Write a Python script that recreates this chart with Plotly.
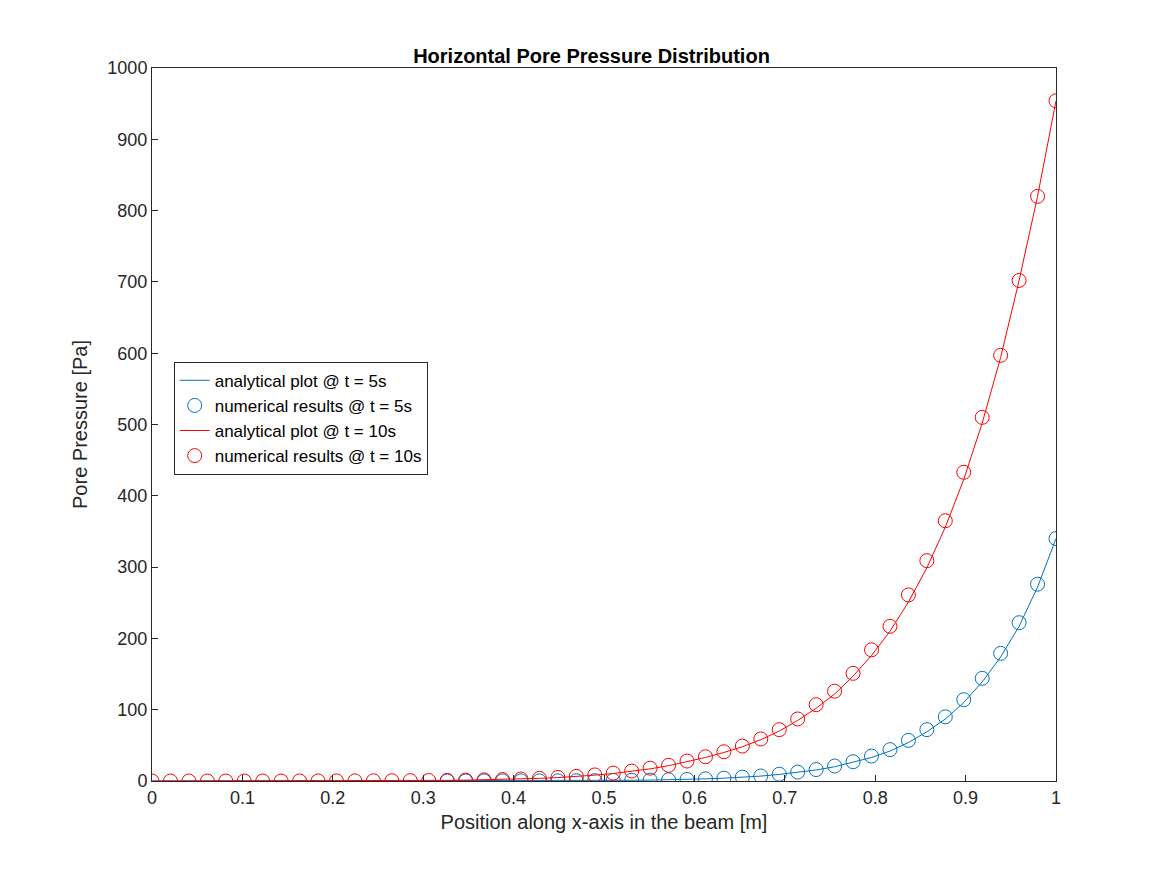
import plotly.graph_objects as go

# node positions (50 nodes on [0, 1])
x_nodes = [i / 49 for i in range(50)]

# numerical results, t = 10 s
p10_num = [0, 0, 0, 0, 0, 0, 0, 0, 0.1, 0.1, 0.2, 0.2, 0.3, 0.4, 0.5,
           0.7, 0.9, 1.2, 1.6, 2.1, 2.8, 3.7, 5.0, 6.5, 8.5, 11, 14, 18, 22,
           28, 34, 41, 49, 59, 72, 87, 107, 126, 151, 184, 217, 261, 309,
           365, 433, 510, 597, 702, 820, 954]
p10_line = [0, 0, 0, 0, 0, 0, 0, 0, 0.1, 0.1, 0.2, 0.2, 0.3, 0.4, 0.5,
            0.7, 0.9, 1.2, 1.6, 2.1, 2.8, 3.7, 4.8, 6.3, 8.2, 10.5, 13.5, 17, 21.5,
            27, 33, 40, 48, 58, 70, 85, 102, 122, 147, 176, 210, 251, 299,
            356, 423, 502, 594, 702, 820, 954]

# numerical results, t = 5 s (markers drawn from node 16 on)
p5_num = [0.03, 0.05, 0.07, 0.1, 0.15, 0.2, 0.3, 0.4, 0.55, 0.75, 1.0, 1.3,
          1.7, 2.2, 3.0, 4.0, 5.5, 7.0, 9.5, 12.5, 16, 21, 27, 35, 44, 57, 72,
          90, 114, 144, 179, 222, 276, 340]
p5_line = [0.03, 0.05, 0.07, 0.1, 0.15, 0.2, 0.3, 0.4, 0.55, 0.75, 1.0, 1.3,
           1.7, 2.2, 3.0, 4.0, 5.3, 6.9, 9.2, 12, 15.5, 20, 26, 33, 42, 54, 69,
           87, 110, 139, 174, 217, 272, 340]
x5 = x_nodes[16:]

p5_line_full = [0.0] * 16 + p5_line

fig = go.Figure()
fig.add_trace(go.Scatter(x=x_nodes, y=p5_line_full, mode="lines",
                         line=dict(color="#0072BD", width=1),
                         name="analytical plot @ t = 5s"))
fig.add_trace(go.Scatter(x=x5, y=p5_num, mode="markers",
                         marker=dict(symbol="circle-open", size=14, color="#0072BD", line=dict(width=1)),
                         name="numerical results @ t = 5s"))
fig.add_trace(go.Scatter(x=x_nodes, y=p10_line, mode="lines",
                         line=dict(color="#FF0000", width=1),
                         name="analytical plot @ t = 10s"))
fig.add_trace(go.Scatter(x=x_nodes, y=p10_num, mode="markers",
                         marker=dict(symbol="circle-open", size=14, color="#FF0000", line=dict(width=1)),
                         name="numerical results @ t = 10s"))

ax = dict(showline=True, linecolor="#262626", linewidth=1, mirror=True, ticks="inside",
          ticklen=6, tickcolor="#262626", showgrid=False, zeroline=False,
          tickfont=dict(size=18, color="#262626"))
fig.update_xaxes(ax, range=[0, 1], dtick=0.1, tickformat="~g",
                 title=dict(text="Position along x-axis in the beam [m]", font=dict(size=20, color="#262626"), standoff=8))
fig.update_yaxes(ax, range=[0, 1000], dtick=100,
                 title=dict(text="Pore Pressure [Pa]", font=dict(size=20, color="#262626"), standoff=14))
fig.update_layout(
    width=1167, height=875, plot_bgcolor="white", paper_bgcolor="white",
    font=dict(family="Liberation Sans, Arial, sans-serif"),
    margin=dict(l=144, r=119, t=60, b=102),
    title=dict(text="<b>Horizontal Pore Pressure Distribution</b>", x=0.5, xanchor="center",
               y=0.945, yanchor="middle", font=dict(size=20, color="black")),
    legend=dict(x=0.024, y=0.588, xanchor="left", yanchor="top", bgcolor="white",
                bordercolor="#262626", borderwidth=1, font=dict(size=17, color="black"),
                tracegroupgap=0),
    showlegend=True,
)
fig.write_html("out.html")
